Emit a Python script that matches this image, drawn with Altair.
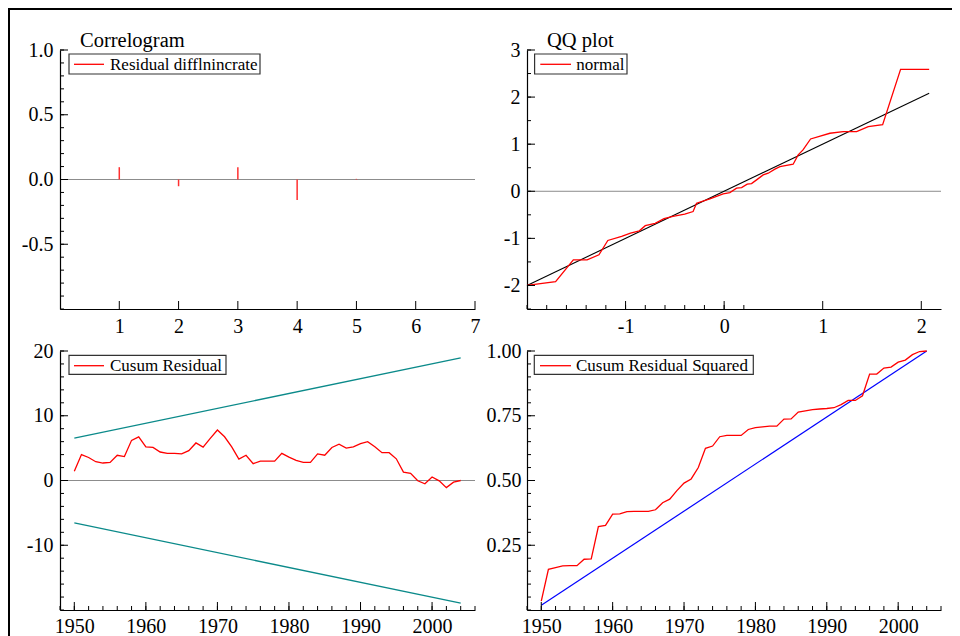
import altair as alt
import pandas as pd

FONT = "Liberation Serif"
RED = "#ff0000"

# ---------------- data ----------------
acf_lag = [1, 2, 3, 4, 5]
acf_val = [0.095, -0.052, 0.095, -0.158, 0.005]

qq_theory = [-2.0, -1.71, -1.53, -1.39, -1.27, -1.18, -1.04, -0.95, -0.86, -0.80,
             -0.70, -0.61, -0.52, -0.40, -0.315, -0.28, -0.145, -0.01, 0.058, 0.126,
             0.177, 0.234, 0.278, 0.329, 0.396, 0.447, 0.515, 0.566, 0.70, 0.751,
             0.80, 0.877, 1.073, 1.208, 1.344, 1.462, 1.608, 1.79, 2.08]
qq_sample = [-2.0, -1.92, -1.455, -1.455, -1.35, -1.045, -0.96, -0.89, -0.84, -0.73,
             -0.68, -0.58, -0.535, -0.486, -0.43, -0.253, -0.16, -0.055, -0.027, 0.066,
             0.079, 0.15, 0.163, 0.242, 0.348, 0.384, 0.469, 0.524, 0.575, 0.772,
             0.878, 1.111, 1.232, 1.266, 1.266, 1.372, 1.415, 2.59, 2.59]
qq_ref = [-2.0, 2.08]

years = list(range(1950, 2005))
cusum = [1.44, 4.0, 3.55, 2.9, 2.7, 2.8, 3.9, 3.7, 6.2, 6.75,
         5.2, 5.1, 4.4, 4.2, 4.2, 4.1, 4.6, 5.8, 5.15, 6.5,
         7.8, 6.75, 5.2, 3.3, 3.9, 2.6, 3.0, 3.0, 3.0, 4.2,
         3.6, 3.1, 2.8, 2.8, 4.1, 3.9, 5.1, 5.6, 5.0, 5.2,
         5.7, 6.0, 5.2, 4.3, 4.3, 3.35, 1.3, 1.1, -0.05, -0.5,
         0.55, -0.05, -1.1, -0.25, 0.0]
bound_years = [1950, 2004]
cusum_upper = [6.55, 18.95]
cusum_lower = [-6.55, -18.95]

cusumsq = [0.034, 0.157, 0.164, 0.170, 0.171, 0.171, 0.196, 0.197, 0.322, 0.327,
           0.370, 0.371, 0.380, 0.381, 0.381, 0.381, 0.387, 0.414, 0.428, 0.461,
           0.490, 0.506, 0.550, 0.624, 0.633, 0.669, 0.674, 0.674, 0.674, 0.697,
           0.704, 0.707, 0.710, 0.710, 0.737, 0.738, 0.764, 0.769, 0.774, 0.776,
           0.778, 0.781, 0.793, 0.809, 0.809, 0.827, 0.911, 0.911, 0.934, 0.938,
           0.957, 0.965, 0.986, 0.998, 1.0]
cusumsq_ref = [0.018, 1.0]

# tick values
acf_y_labels = [-0.5, 0.0, 0.5, 1.0]
acf_y_minor = [round(-1 + 0.1 * i, 1) for i in range(21)]
acf_x_labels = [1, 2, 3, 4, 5, 6, 7]
qq_y_labels = [-2, -1, 0, 1, 2, 3]
qq_y_minor = [-2.5, -2, -1.5, -1, -0.5, 0, 0.5, 1, 1.5, 2, 2.5, 3]
qq_x_labels = [-1, 0, 1, 2]
qq_x_minor = [round(-2 + 0.2 * i, 1) for i in range(12)]
cs_y_labels = [-10, 0, 10, 20]
cs_y_minor = list(range(-20, 21, 2))
yr_labels = [1950, 1960, 1970, 1980, 1990, 2000]
yr_minor = list(range(1948, 2007, 2))
sq_y_labels = [0.25, 0.5, 0.75, 1.0]
sq_y_minor = [round(0.05 * i, 2) for i in range(21)]

W1, W2, H = 415, 414, 259
MINUS = "replace(datum.label, '\u2212', '-')"


def sc(dom):
    return alt.Scale(domain=dom, nice=False, zero=False)


def one():
    return pd.DataFrame({"a": [0]})


def yaxis(values, fmt, pad=7):
    return alt.Axis(values=values, format=fmt, labelPadding=pad, labelExpr=MINUS,
                    labelOverlap=False, title=None)


def xaxis(values, fmt, pad=7):
    return alt.Axis(values=values, format=fmt, labelPadding=pad, labelExpr=MINUS,
                    labelFlush=False, labelOverlap=False, title=None)


def yticks(values, length, dom, ax):
    return alt.Chart(pd.DataFrame({"t": values})).mark_rule(
        color="black", strokeWidth=1).encode(
        y=alt.Y("t:Q", scale=sc(dom), axis=ax),
        x=alt.value(0), x2=alt.value(length))


def xticks(values, length, dom, ax):
    return alt.Chart(pd.DataFrame({"t": values})).mark_rule(
        color="black", strokeWidth=1).encode(
        x=alt.X("t:Q", scale=sc(dom), axis=ax),
        y=alt.value(H), y2=alt.value(H - length))


def zero_line(dom, ax):
    return alt.Chart(one()).mark_rule(color="#8c8c8c", strokeWidth=1).encode(
        y=alt.Y("a:Q", scale=sc(dom), axis=ax))


def legend(bx0, bx1, by0, by1, lx0, lx1, ly, tx, ty, label):
    box = alt.Chart(one()).mark_rect(fill="white", stroke="#333333", strokeWidth=1.2).encode(
        x=alt.value(bx0), x2=alt.value(bx1), y=alt.value(by0), y2=alt.value(by1))
    line = alt.Chart(one()).mark_rule(color=RED, strokeWidth=1.3).encode(
        x=alt.value(lx0), x2=alt.value(lx1), y=alt.value(ly))
    txt = alt.Chart(pd.DataFrame({"label": [label]})).mark_text(
        align="left", baseline="alphabetic", font=FONT, fontSize=17, color="black").encode(
        x=alt.value(tx), y=alt.value(ty), text="label:N")
    return [box, line, txt]


def title(text):
    return alt.Chart(pd.DataFrame({"label": [text]})).mark_text(
        align="left", baseline="alphabetic", font=FONT, fontSize=20.5, color="black").encode(
        x=alt.value(20), y=alt.value(-3.5), text="label:N")


# ---------------- panel 1: correlogram ----------------
d1 = [-1, 1]
x1d = [0, 7]
ya1 = yaxis(acf_y_labels, ".1f", 7)
xa1 = xaxis(acf_x_labels, "d", 7)
acf_df = pd.DataFrame({"lag": acf_lag, "acf": acf_val})
p1_bars = alt.Chart(acf_df).mark_rule(color="#ff3030", strokeWidth=1.5).encode(
    x=alt.X("lag:Q", scale=sc(x1d), axis=xa1),
    y=alt.Y("acf:Q", scale=sc(d1), axis=ya1),
    y2=alt.datum(0))
# outer frame of the figure (top and left edges)
frame_top = alt.Chart(one()).mark_rect(color="black", strokeWidth=0).encode(
    x=alt.value(-52), x2=alt.value(892), y=alt.value(-42), y2=alt.value(-40))
frame_left = alt.Chart(one()).mark_rect(color="black", strokeWidth=0).encode(
    x=alt.value(-52), x2=alt.value(-50), y=alt.value(-42), y2=alt.value(590))
p1 = alt.layer(
    zero_line(d1, ya1), p1_bars,
    yticks(acf_y_labels, 8, d1, ya1), yticks(acf_y_minor, 4, d1, ya1),
    xticks(acf_x_labels, 8, x1d, xa1),
    *legend(9, 200, 4, 24, 14, 44, 14.3, 50, 19.5, "Residual difflnincrate"),
    title("Correlogram"), frame_top, frame_left,
).properties(width=W1, height=H)

# ---------------- panel 2: QQ plot ----------------
d2 = [-2.5, 3]
x2d = [-2.0, 2.2]
ya2 = yaxis(qq_y_labels, "d", 7)
xa2 = xaxis(qq_x_labels, "d", 7)
qq_df = pd.DataFrame({"q": qq_theory, "s": qq_sample})
ref_df = pd.DataFrame({"q": qq_ref, "s": qq_ref})
p2_ref = alt.Chart(ref_df).mark_line(color="black", strokeWidth=1.1).encode(
    x=alt.X("q:Q", scale=sc(x2d), axis=xa2),
    y=alt.Y("s:Q", scale=sc(d2), axis=ya2))
p2_line = alt.Chart(qq_df).mark_line(color=RED, strokeWidth=1.3).encode(
    x=alt.X("q:Q", scale=sc(x2d), axis=xa2),
    y=alt.Y("s:Q", scale=sc(d2), axis=ya2))
p2 = alt.layer(
    zero_line(d2, ya2), p2_ref, p2_line,
    yticks(qq_y_labels, 8, d2, ya2), yticks(qq_y_minor, 4, d2, ya2),
    xticks(qq_x_labels, 8, x2d, xa2), xticks(qq_x_minor, 4, x2d, xa2),
    *legend(7.6, 100, 4, 24, 13.3, 44, 14.3, 49.3, 19.5, "normal"),
    title("QQ plot"),
).properties(width=W2, height=H)

# ---------------- panel 3: cusum ----------------
d3 = [-20, 20]
xyd = [1948, 2006]
ya3 = yaxis(cs_y_labels, "d", 7)
xa3 = xaxis(yr_labels, "d", 6)
cs_df = pd.DataFrame({"year": years, "v": cusum})
bnd_df = pd.DataFrame({
    "year": bound_years + bound_years,
    "v": cusum_upper + cusum_lower,
    "which": ["upper"] * 2 + ["lower"] * 2,
})
p3_bnd = alt.Chart(bnd_df).mark_line(color="#0b8a8a", strokeWidth=1.3).encode(
    x=alt.X("year:Q", scale=sc(xyd), axis=xa3),
    y=alt.Y("v:Q", scale=sc(d3), axis=ya3),
    detail="which:N")
p3_line = alt.Chart(cs_df).mark_line(color=RED, strokeWidth=1.3).encode(
    x=alt.X("year:Q", scale=sc(xyd), axis=xa3),
    y=alt.Y("v:Q", scale=sc(d3), axis=ya3))
p3 = alt.layer(
    zero_line(d3, ya3), p3_bnd, p3_line,
    yticks(cs_y_labels, 8, d3, ya3), yticks(cs_y_minor, 4, d3, ya3),
    xticks(yr_labels, 8, xyd, xa3), xticks(yr_minor, 4, xyd, xa3),
    *legend(9, 166, 4.3, 23.3, 14, 44, 14.7, 50, 19.7, "Cusum Residual"),
).properties(width=W1, height=H)

# ---------------- panel 4: cusum squared ----------------
d4 = [0, 1]
ya4 = yaxis(sq_y_labels, ".2f", 6)
xa4 = xaxis(yr_labels, "d", 6)
sq_df = pd.DataFrame({"year": years, "v": cusumsq})
sqref_df = pd.DataFrame({"year": bound_years, "v": cusumsq_ref})
p4_ref = alt.Chart(sqref_df).mark_line(color="#0000ff", strokeWidth=1.2).encode(
    x=alt.X("year:Q", scale=sc(xyd), axis=xa4),
    y=alt.Y("v:Q", scale=sc(d4), axis=ya4))
p4_line = alt.Chart(sq_df).mark_line(color=RED, strokeWidth=1.3).encode(
    x=alt.X("year:Q", scale=sc(xyd), axis=xa4),
    y=alt.Y("v:Q", scale=sc(d4), axis=ya4))
p4 = alt.layer(
    p4_ref, p4_line,
    yticks(sq_y_labels, 8, d4, ya4), yticks(sq_y_minor, 4, d4, ya4),
    xticks(yr_labels, 8, xyd, xa4), xticks(yr_minor, 4, xyd, xa4),
    *legend(7.3, 226.3, 4.3, 23.3, 13, 44, 14.7, 49, 19.7, "Cusum Residual Squared"),
).properties(width=W2, height=H)

chart = alt.concat(
    p1, p2, p3, p4, columns=2,
    spacing={"row": 42, "column": 52}, bounds="flush",
).properties(
    padding=0, background="white",
).configure_view(
    strokeWidth=0
).configure_axis(
    domainColor="black", domainWidth=1.2, ticks=False, grid=False,
    labelFont=FONT, labelFontSize=20, labelColor="black",
)

chart.save("out.html", embed_options={"renderer": "svg", "actions": False})
